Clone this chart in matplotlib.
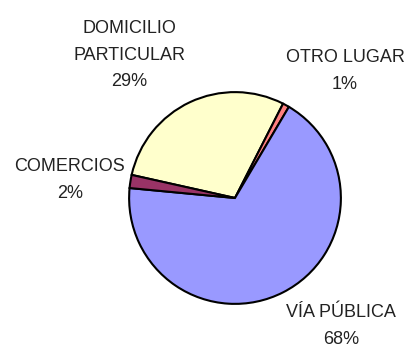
import matplotlib
matplotlib.use('Agg')
from matplotlib import pyplot as plt

# lugar del hecho, en porcentaje
lugares = ['DOMICILIO\nPARTICULAR', 'OTRO LUGAR', 'VÍA PÚBLICA', 'COMERCIOS']
porcentajes = [29, 1, 68, 2]
colores = ['#FFFFCC', '#FF8080', '#9999FF', '#993366']

# posicion de cada etiqueta, en radios del pastel
pos_etiquetas = [(-1.0, 1.35), (1.04, 1.20), (1.0, -1.21), (-1.56, 0.17)]

plt.rcParams['font.family'] = ['Liberation Sans', 'DejaVu Sans']

fig = plt.figure(figsize=(4.10, 3.52), dpi=100)
W, H = 410, 352
cx, cy, r = 235, 198, 108
ax = fig.add_axes([(cx - r) / W, (H - cy - r) / H, 2 * r / W, 2 * r / H])

ax.pie(porcentajes, colors=colores, startangle=167.4, counterclock=False,
       wedgeprops={'edgecolor': 'black', 'linewidth': 1.5})
ax.set_xlim(-1.02, 1.02)
ax.set_ylim(-1.02, 1.02)
ax.set_aspect('equal')
ax.axis('off')

for nombre, pct, (x, y) in zip(lugares, porcentajes, pos_etiquetas):
	ax.text(x, y, nombre + '\n' + str(pct) + '%', ha='center', va='center',
		fontsize=13, color='#222222', linespacing=1.75)

fig.savefig('out.png', dpi=100, facecolor='white')
